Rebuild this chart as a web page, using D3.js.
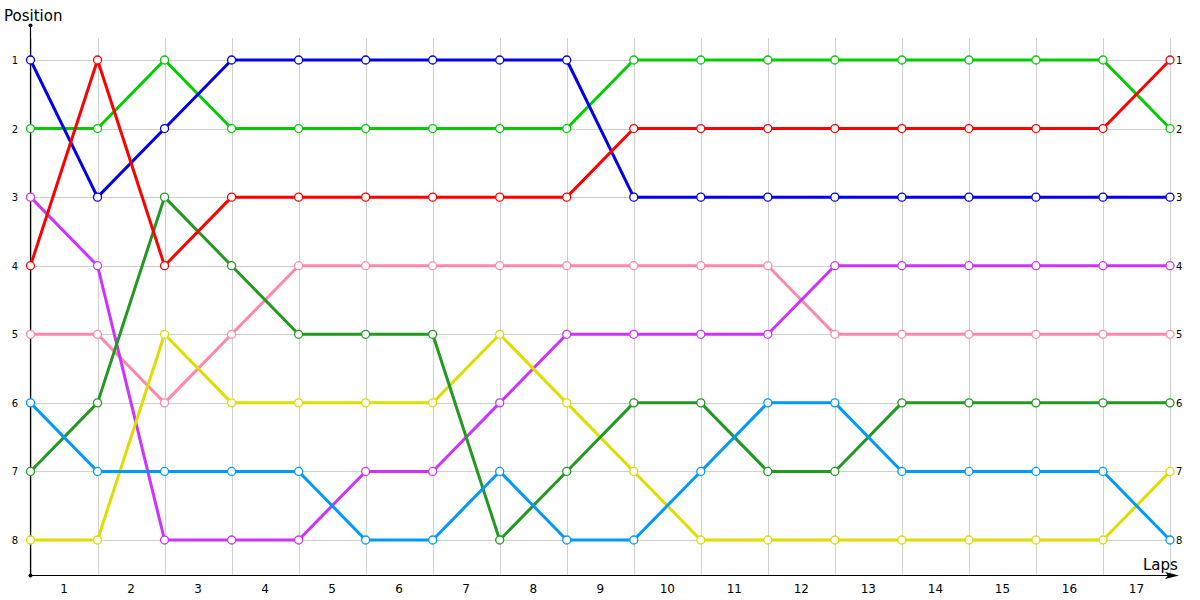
<!DOCTYPE html>
<html><head><meta charset="utf-8">
<script src="https://cdn.jsdelivr.net/npm/d3@7"></script>
<style>body{margin:0;background:#fff}svg{display:block}</style>
</head><body>
<svg id="c" width="1200" height="600"></svg>
<script>
const laps = ["1","2","3","4","5","6","7","8","9","10","11","12","13","14","15","16","17"];
const positions = [1,2,3,4,5,6,7,8];
const pink   = [5,5,6,5,4,4,4,4,4,4,4,4,5,5,5,5,5,5];
const purple = [3,4,8,8,8,7,7,6,5,5,5,5,4,4,4,4,4,4];
const yellow = [8,8,5,6,6,6,6,5,6,7,8,8,8,8,8,8,8,7];
const darkGreen = [7,6,3,4,5,5,5,8,7,6,6,7,7,6,6,6,6,6];
const lightBlue = [6,7,7,7,7,8,8,7,8,8,7,6,6,7,7,7,7,8];
const green  = [2,2,1,2,2,2,2,2,2,1,1,1,1,1,1,1,1,2];
const blue   = [1,3,2,1,1,1,1,1,1,3,3,3,3,3,3,3,3,3];
const red    = [4,1,4,3,3,3,3,3,3,2,2,2,2,2,2,2,2,1];
const seriesList = [
  {values: pink, color: "#ff88aa"},
  {values: purple, color: "#cc33ff"},
  {values: yellow, color: "#dddd00"},
  {values: darkGreen, color: "#229922"},
  {values: lightBlue, color: "#0099ff"},
  {values: green, color: "#00cc00"},
  {values: blue, color: "#0000ee"},
  {values: red, color: "#ff0000"}
];

const svg = d3.select("#c");
const x = d3.scaleLinear().domain([0, laps.length]).range([30.5, 1170]);
const y = d3.scaleLinear().domain([1, 8]).range([60, 540]);
const font = "'DejaVu Sans', Verdana, sans-serif";

// grid
const g = svg.append("g");
g.selectAll("line.v").data(d3.range(0, laps.length + 1)).join("line")
  .attr("x1", d => Math.round(x(d)) + 0.5).attr("x2", d => Math.round(x(d)) + 0.5)
  .attr("y1", 38).attr("y2", 575).attr("stroke", "#d0d0d0").attr("stroke-width", 1);
g.selectAll("line.h").data(positions).join("line")
  .attr("x1", 30).attr("x2", Math.round(x(laps.length)) + 0.5)
  .attr("y1", d => Math.round(y(d)) + 0.5).attr("y2", d => Math.round(y(d)) + 0.5)
  .attr("stroke", "#d0d0d0").attr("stroke-width", 1);

// axes
svg.append("line").attr("x1", 30.5).attr("x2", 30.5).attr("y1", 25).attr("y2", 575.5).attr("stroke", "#000").attr("stroke-width", 1.2);
svg.append("line").attr("x1", 30).attr("x2", 1172).attr("y1", 575.5).attr("y2", 575.5).attr("stroke", "#000").attr("stroke-width", 1.2);
svg.append("circle").attr("cx", 30.5).attr("cy", 25.5).attr("r", 2).attr("fill", "#000");
svg.append("circle").attr("cx", 30.5).attr("cy", 575.5).attr("r", 2).attr("fill", "#000");
svg.append("path").attr("d", "M1165,572 L1179,575.5 L1165,579 L1168,575.5 Z").attr("fill", "#000");

// axis labels
svg.append("text").attr("x", 4).attr("y", 21).text("Position")
  .attr("font-family", font).attr("font-size", 15).attr("fill", "#000");
svg.append("text").attr("x", 1143).attr("y", 570).text("Laps")
  .attr("font-family", font).attr("font-size", 15).attr("fill", "#000");

// lap labels
svg.selectAll("text.lap").data(laps).join("text")
  .attr("x", (d, i) => x(i + 0.5)).attr("y", 593).attr("text-anchor", "middle")
  .attr("font-family", font).attr("font-size", 12).attr("fill", "#000").text(d => d);

// position labels
svg.selectAll("text.pl").data(positions).join("text")
  .attr("x", 18).attr("y", d => y(d) + 4).attr("text-anchor", "end")
  .attr("font-family", font).attr("font-size", 10).attr("fill", "#000").text(d => d);
svg.selectAll("text.pr").data(positions).join("text")
  .attr("x", 1176).attr("y", d => y(d) + 4).attr("text-anchor", "start")
  .attr("font-family", font).attr("font-size", 10).attr("fill", "#000").text(d => d);

// series
const line = d3.line().x((d, i) => x(i)).y(d => y(d));
seriesList.forEach(s => {
  const sg = svg.append("g");
  sg.append("path").attr("d", line(s.values)).attr("fill", "none")
    .attr("stroke", s.color).attr("stroke-width", 3).attr("stroke-linejoin", "round");
  sg.selectAll("circle").data(s.values).join("circle")
    .attr("cx", (d, i) => x(i)).attr("cy", d => y(d)).attr("r", 4)
    .attr("fill", "#fff").attr("stroke", s.color).attr("stroke-width", 1.3);
});
</script>
</body></html>
